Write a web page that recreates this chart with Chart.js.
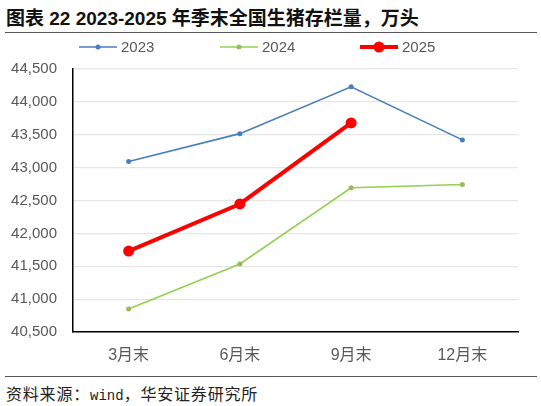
<!DOCTYPE html>
<html>
<head>
<meta charset="utf-8">
<script src="https://cdn.jsdelivr.net/npm/chart.js@4/dist/chart.umd.min.js"></script>
<style>
  html, body { margin: 0; padding: 0; background: #fff; }
  body { width: 541px; height: 406px; position: relative; overflow: hidden; font-family: "Liberation Sans", "Noto Sans CJK SC", sans-serif; }
  #title { position: absolute; left: 6px; top: 3px; font-size: 19px; font-weight: bold; color: #111; white-space: nowrap; }
  .rule { position: absolute; left: 5px; width: 532px; height: 1px; background: #555; }
  #chart-box { position: absolute; left: 0; top: 36px; width: 541px; height: 340px; }
  #source { position: absolute; left: 6px; top: 381px; font-size: 16px; letter-spacing: 0.8px; color: #222; font-family: "Noto Sans CJK SC", sans-serif; white-space: nowrap; }
  #source span { font-family: "Liberation Mono", monospace; font-size: 14px; letter-spacing: 0; }
</style>
</head>
<body>
<div id="title">图表 22 2023-2025 年季末全国生猪存栏量，万头</div>
<div class="rule" style="top:32px"></div>
<div id="chart-box"><canvas id="chart" width="541" height="340"></canvas></div>
<div class="rule" style="top:376px"></div>
<div id="source">资料来源：<span>wind</span>，华安证券研究所</div>
<script>
// 季度标签与数据（万头）
const quarters = ['3月末', '6月末', '9月末', '12月末'];
const seriesNames = ['2023', '2024', '2025'];
const values2023 = [43094, 43517, 44229, 43422];
const values2024 = [40850, 41534, 42694, 42743];
const values2025 = [41731, 42447, 43680, null];
const yTicks = { min: 40500, max: 44500, step: 500 };

const colors = ['#4A7EBB', '#92D050', '#FF0000'];
const pointColors = ['#4A7EBB', '#9BBB59', '#FF0000'];
const widths = [1.6, 1.6, 4];
const radii = [2.5, 2.5, 5.5];

const allValues = [values2023, values2024, values2025];
const datasets = seriesNames.map((name, i) => ({
    label: name,
    data: allValues[i],
    borderColor: colors[i],
    backgroundColor: pointColors[i],
    pointBackgroundColor: pointColors[i],
    pointBorderColor: pointColors[i],
    borderWidth: widths[i],
    pointRadius: radii[i],
    pointBorderWidth: 0,
    tension: 0,
    spanGaps: false,
    order: 3 - i
}));

// 自绘图例：线段 + 圆点 + 文字
const legendStarts = [79, 220, 360];
const lineLegend = {
    id: 'lineLegend',
    afterDraw(chart) {
        const ctx = chart.ctx;
        const y = 11;
        ctx.save();
        chart.data.datasets.forEach((ds, i) => {
            const x0 = legendStarts[i];
            ctx.strokeStyle = ds.borderColor;
            ctx.lineWidth = ds.borderWidth;
            ctx.beginPath(); ctx.moveTo(x0, y); ctx.lineTo(x0 + 38, y); ctx.stroke();
            ctx.fillStyle = ds.pointBackgroundColor;
            ctx.beginPath(); ctx.arc(x0 + 19, y, ds.pointRadius, 0, Math.PI * 2); ctx.fill();
            ctx.fillStyle = '#595959';
            ctx.font = '15px "Liberation Sans", sans-serif';
            ctx.textBaseline = 'middle';
            ctx.fillText(ds.label, x0 + 42, y + 1);
        });
        ctx.restore();
    }
};

new Chart(document.getElementById('chart').getContext('2d'), {
    type: 'line',
    data: { labels: quarters, datasets: datasets },
    plugins: [lineLegend],
    options: {
        responsive: false,
        animation: false,
        layout: { padding: { left: 0, right: 23, top: 33, bottom: 0 } },
        plugins: {
            tooltip: { enabled: false },
            legend: { display: false }
        },
        scales: {
            x: {
                offset: true,
                grid: { display: false, drawTicks: false },
                border: { display: true, color: '#000', width: 1.5 },
                ticks: { color: '#595959', font: { size: 16, family: '"Liberation Sans", "Noto Sans CJK SC", sans-serif' }, padding: 14 },
                afterFit(scale) { scale.height = 44; }
            },
            y: {
                min: yTicks.min,
                max: yTicks.max,
                grid: { color: '#E6E6E6', lineWidth: 1.2, drawTicks: false },
                border: { display: true, color: '#000', width: 1.5 },
                ticks: {
                    stepSize: yTicks.step,
                    color: '#595959',
                    font: { size: 15, family: '"Liberation Sans", sans-serif' },
                    padding: 16,
                    callback: v => v.toLocaleString('en-US')
                },
                afterFit(scale) { scale.width = 73; }
            }
        }
    }
});
</script>
</body>
</html>
